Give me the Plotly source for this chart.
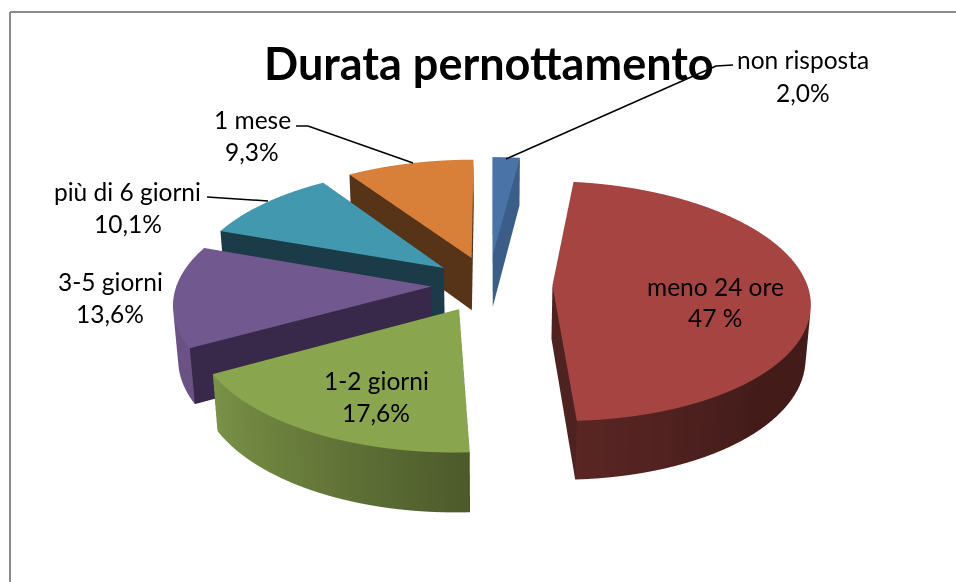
import math
import plotly.graph_objects as go

W, H = 956, 582
title = "Durata pernottamento"
names = ["non risposta", "meno 24 ore", "1-2 giorni", "3-5 giorni", "più di 6 giorni", "1 mese"]
pct_labels = ["2,0%", "47 %", "17,6%", "13,6%", "10,1%", "9,3%"]
values = [2.0, 47.0, 17.6, 13.6, 10.1, 9.3]

top_colors = ["#4A74A8", "#A64442", "#89A54E", "#71588F", "#4198AF", "#D88039"]
side_colors = ["#3A5E88", "#4E2220", "#38481F", "#38284A", "#1C3B48", "#573318"]
arc_stops = [
    ["#3A5E88", "#3A5E88"],
    ["#431C1A", "#431C1A", "#431C1A", "#431C1A", "#5A2624"],
    ["#4C5A2B", "#66793A", "#7A9347"],
    ["#6A5285", "#6A5285"],
    ["#1C3B48", "#1C3B48"],
    ["#573318", "#573318"],
]
label_x = [803, 715, 376, 110, 128, 252]
label_y = [(60, 92), (286, 317), (380, 412), (281, 313), (192, 224), (120, 152)]
leaders = [
    [(506, 159), (716, 66), (733, 65)],
    [(296, 126), (308, 126), (413, 163)],
    [(207, 197), (268, 201)],
]
explode = [0.26, 0.25, 0.235, 0.225, 0.228, 0.24]
DEPTH = 0.24
SEG = 72
ELEV = math.radians(27.5)
EYE_DIST = 6.8


def hex2rgb(c):
    return tuple(int(c[i:i + 2], 16) for i in (1, 3, 5))


def mix(stops, t):
    p = t * (len(stops) - 1)
    i = min(int(p), len(stops) - 2)
    f = p - i
    a, b = hex2rgb(stops[i]), hex2rgb(stops[i + 1])
    return "rgb(%d,%d,%d)" % tuple(round(a[k] + (b[k] - a[k]) * f) for k in range(3))


def wedge(start, end, top, side, stops, ex):
    mid = (start + end) / 2
    ox, oy = ex * math.sin(mid), ex * math.cos(mid)
    X, Y, Z, C, I, J, K = [], [], [], [], [], [], []

    def add(x, y, z, c):
        x, y = x + ox, y + oy
        w = 1 / (1 - (-math.cos(ELEV) * y + math.sin(ELEV) * z) / EYE_DIST)
        X.append(x * w); Y.append(y * w); Z.append(z * w); C.append(c)
        return len(X) - 1

    angles = [start + (end - start) * s / SEG for s in range(SEG + 1)]
    apex = add(0, 0, 0, top)
    rim = [add(math.sin(a), math.cos(a), 0, top) for a in angles]
    for a, b in zip(rim, rim[1:]):
        I.append(apex); J.append(a); K.append(b)
    up = [add(math.sin(a), math.cos(a), 0, mix(stops, s / SEG)) for s, a in enumerate(angles)]
    dn = [add(math.sin(a), math.cos(a), -DEPTH, mix(stops, s / SEG)) for s, a in enumerate(angles)]
    for s in range(SEG):
        I += [up[s], up[s + 1]]; J += [dn[s], dn[s]]; K += [up[s + 1], dn[s + 1]]
    for a in (start, end):
        q = [add(0, 0, 0, side), add(math.sin(a), math.cos(a), 0, side),
             add(math.sin(a), math.cos(a), -DEPTH, side), add(0, 0, -DEPTH, side)]
        I += [q[0], q[0]]; J += [q[1], q[2]]; K += [q[2], q[3]]
    return go.Mesh3d(x=X, y=Y, z=Z, i=I, j=J, k=K, vertexcolor=C, hoverinfo="skip",
                     flatshading=False,
                     lighting=dict(ambient=1, diffuse=0, specular=0, roughness=1, fresnel=0),
                     showscale=False)


total = sum(values)
traces = []
acc = 0.0
for v, t, s, st, ex in zip(values, top_colors, side_colors, arc_stops, explode):
    a0 = acc / total * 2 * math.pi
    acc += v
    a1 = acc / total * 2 * math.pi
    traces.append(wedge(a0, a1, t, s, st, ex))

fig = go.Figure(traces)


def px(x):
    return x / W


def py(y):
    return 1 - y / H


anns = [dict(text="<b>%s</b>" % title, x=px(489), y=py(63), xref="paper", yref="paper",
             xanchor="center", yanchor="middle", showarrow=False,
             font=dict(family="Lato", size=45, color="#000000"))]
for n, p, x, (y1, y2) in zip(names, pct_labels, label_x, label_y):
    for txt, y in ((n, y1), (p, y2)):
        anns.append(dict(text=txt, x=px(x), y=py(y), xref="paper", yref="paper", showarrow=False,
                         xanchor="center", yanchor="middle",
                         font=dict(family="Lato", size=24.5, color="#000000")))

shapes = [
    dict(type="line", xref="paper", yref="paper", x0=px(10), x1=px(10), y0=0, y1=py(12),
         line=dict(color="#8C8C8C", width=2)),
    dict(type="line", xref="paper", yref="paper", x0=px(10), x1=1, y0=py(12), y1=py(12),
         line=dict(color="#8C8C8C", width=2)),
]
for pts in leaders:
    for (x0, y0), (x1, y1) in zip(pts, pts[1:]):
        shapes.append(dict(type="line", xref="paper", yref="paper", x0=px(x0), x1=px(x1),
                           y0=py(y0), y1=py(y1), line=dict(color="#000000", width=1.5)))

axis = dict(visible=False, range=[-1.6, 1.6], autorange=False)
EYE_R = 1.47
CX, CZ = -0.037, -0.026
fig.update_layout(
    width=W, height=H, margin=dict(l=0, r=0, t=0, b=0), paper_bgcolor="white",
    showlegend=False, annotations=anns, shapes=shapes,
    scene=dict(
        domain=dict(x=[0, 1], y=[0, 1]),
        xaxis=axis, yaxis=axis, zaxis=axis,
        aspectmode="manual", aspectratio=dict(x=2.8, y=2.8, z=2.8),
        bgcolor="rgba(0,0,0,0)",
        camera=dict(eye=dict(x=CX, y=-EYE_R * math.cos(ELEV), z=CZ + EYE_R * math.sin(ELEV)),
                    center=dict(x=CX, y=0, z=CZ), up=dict(x=0, y=0, z=1),
                    projection=dict(type="orthographic")),
    ),
)
fig.write_html("out.html", config=dict(displayModeBar=False),
               post_script="document.body.style.margin='0';document.body.style.overflow='hidden';")
